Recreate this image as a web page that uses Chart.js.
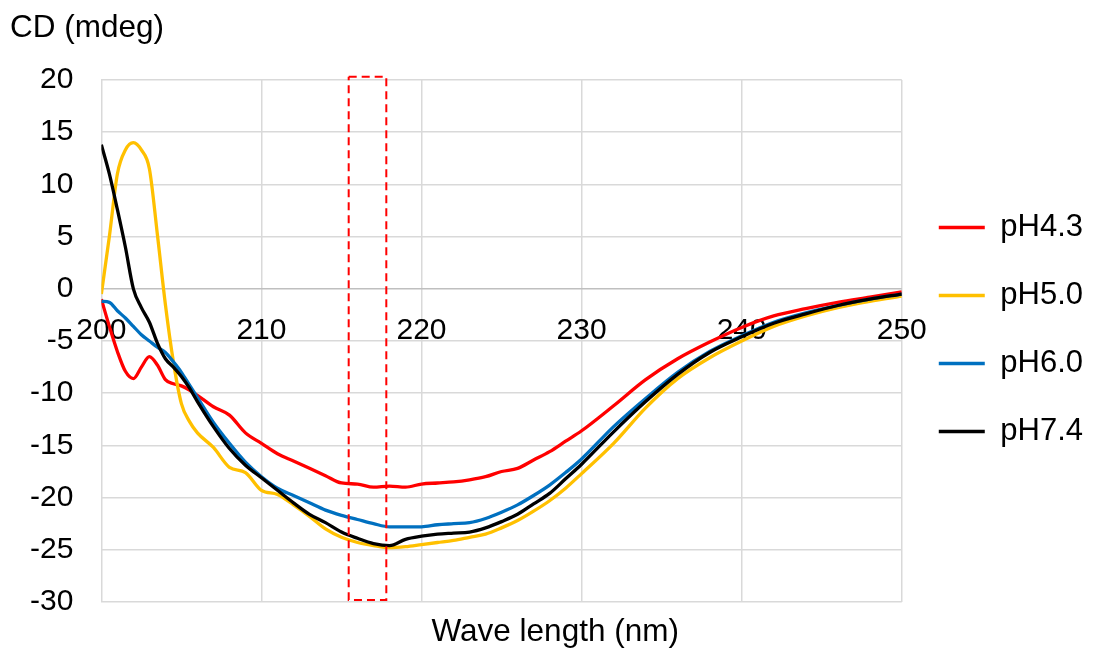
<!DOCTYPE html>
<html>
<head>
<meta charset="utf-8">
<script src="https://cdn.jsdelivr.net/npm/chart.js@4.4.1/dist/chart.umd.min.js"></script>
<style>
  html, body { margin: 0; padding: 0; background: #fff; }
  canvas { display: block; }
</style>
</head>
<body>
<canvas id="cd" width="1093" height="650"></canvas>
<script>
// wavelength (nm) and CD signal (mdeg)
const wavelengths = [200, 200.5, 201, 201.5, 202, 202.5, 203, 203.5, 204, 204.5, 205, 205.5, 206, 207, 208, 209,
  210, 211, 212, 213, 214, 215, 216, 217, 218, 219, 220, 221, 222, 223, 224, 225, 226, 227, 228, 229,
  230, 232, 234, 236, 238, 240, 242, 244, 246, 248, 250];

const ph43 = [-1.0, -3.6, -6.0, -7.9, -8.6, -7.5, -6.5, -7.3, -8.7, -9.1, -9.3, -9.7, -10.2, -11.3, -12.1, -13.8,
  -14.8, -15.8, -16.5, -17.2, -17.9, -18.6, -18.7, -19.0, -18.9, -19.0, -18.7, -18.6, -18.5, -18.3, -18.0, -17.5, -17.2, -16.4, -15.6, -14.6,
  -13.6, -11.2, -8.7, -6.7, -5.1, -3.7, -2.6, -1.9, -1.3, -0.8, -0.3];

const ph50 = [-0.5, 5.0, 11.0, 13.3, 14.0, 13.3, 11.5, 5.2, -1.5, -7.0, -11.0, -12.7, -13.8, -15.2, -17.1, -17.6,
  -19.3, -19.7, -20.7, -21.8, -23.0, -23.8, -24.3, -24.6, -24.8, -24.7, -24.5, -24.3, -24.1, -23.8, -23.5, -22.9, -22.2, -21.3, -20.3, -19.1,
  -17.7, -14.8, -11.4, -8.6, -6.6, -5.0, -3.6, -2.6, -1.8, -1.2, -0.7];

const ph60 = [-1.2, -1.3, -2.1, -2.8, -3.6, -4.4, -5.0, -5.6, -6.1, -7.0, -8.0, -9.2, -10.4, -12.8, -14.8, -16.6,
  -18.0, -19.1, -19.8, -20.5, -21.2, -21.7, -22.1, -22.5, -22.8, -22.8, -22.8, -22.6, -22.5, -22.4, -22.0, -21.4, -20.7, -19.8, -18.8, -17.6,
  -16.3, -13.2, -10.5, -8.0, -6.0, -4.5, -3.2, -2.3, -1.6, -1.0, -0.5];

const ph74 = [13.8, 11.0, 7.6, 4.0, 0.0, -1.8, -3.2, -5.2, -6.7, -7.5, -8.4, -9.5, -10.8, -13.2, -15.3, -16.9,
  -18.1, -19.3, -20.5, -21.6, -22.4, -23.3, -23.9, -24.4, -24.6, -24.0, -23.7, -23.5, -23.4, -23.3, -22.9, -22.3, -21.6, -20.6, -19.6, -18.2,
  -16.8, -13.7, -10.8, -8.2, -6.1, -4.6, -3.3, -2.4, -1.6, -1.0, -0.5];

// dashed highlight box around 216-218 nm
const boxX = [215.45, 217.8, 217.8, 215.45, 215.45];
const boxY = [20.3, 20.3, -29.8, -29.8, 20.3];

const xTickValues = [200, 210, 220, 230, 240, 250];
const yTickValues = [-30, -25, -20, -15, -10, -5, 0, 5, 10, 15, 20];

const FONT = "'Liberation Sans', Arial, sans-serif";

function pairs(xs, ys) {
  return xs.map((x, i) => ({ x: x, y: ys[i] }));
}

function series(label, values, color, order) {
  return {
    label: label,
    data: pairs(wavelengths, values),
    borderColor: color,
    backgroundColor: color,
    borderWidth: 3.3,
    pointRadius: 0,
    cubicInterpolationMode: 'monotone',
    order: order,
  };
}

const axisTitles = {
  id: 'axisTitles',
  afterDraw(chart) {
    const { ctx, chartArea } = chart;
    ctx.save();
    ctx.fillStyle = '#000';
    ctx.font = '31.5px ' + FONT;
    ctx.textBaseline = 'middle';
    ctx.textAlign = 'left';
    ctx.fillText('CD (mdeg)', 10, 28);
    ctx.textAlign = 'center';
    ctx.fillText('Wave length (nm)', chartArea.left + chartArea.width * 0.567, 632);
    ctx.restore();
  }
};

new Chart(document.getElementById('cd'), {
  type: 'line',
  data: {
    datasets: [
      series('pH4.3', ph43, '#ff0000', 4),
      series('pH5.0', ph50, '#ffc000', 3),
      series('pH6.0', ph60, '#0070c0', 2),
      series('pH7.4', ph74, '#000000', 1),
      {
        label: 'box',
        data: pairs(boxX, boxY),
        borderColor: '#ff0000',
        borderWidth: 2,
        borderDash: [8, 5],
        pointRadius: 0,
        tension: 0,
        clip: false,
        order: 0,
      },
    ],
  },
  options: {
    responsive: false,
    animation: false,
    layout: { padding: { left: 2, top: 80, right: 0, bottom: 48 } },
    plugins: {
      tooltip: { enabled: false },
      legend: {
        position: 'right',
        fullSize: false,
        align: 'start',
        title: { display: true, text: '', font: { size: 10 }, padding: { top: 83, bottom: 0 } },
        labels: {
          filter: (item) => item.text !== 'box',
          sort: (a, b) => a.datasetIndex - b.datasetIndex,
          usePointStyle: true,
          pointStyle: 'line',
          pointStyleWidth: 46,
          padding: 37,
          color: '#000',
          font: { family: FONT, size: 31 },
        },
      },
    },
    scales: {
      x: {
        type: 'linear',
        min: 200,
        max: 250,
        afterBuildTicks: (axis) => { axis.ticks = xTickValues.map(v => ({ value: v })); },
        ticks: { display: false },
        grid: { color: '#d9d9d9', lineWidth: 1.5, drawTicks: false },
        border: { display: false },
      },
      xLabels: {
        type: 'linear',
        position: { y: 0 },
        min: 200,
        max: 250,
        afterBuildTicks: (axis) => { axis.ticks = xTickValues.map(v => ({ value: v })); },
        grid: { display: false, drawTicks: false },
        border: { display: false },
        ticks: { color: '#000', padding: 24, font: { family: FONT, size: 30 } },
      },
      y: {
        min: -30,
        max: 20,
        afterBuildTicks: (axis) => { axis.ticks = yTickValues.map(v => ({ value: v })); },
        grid: {
          color: (c) => (c.tick && c.tick.value === 0 ? '#bfbfbf' : '#d9d9d9'),
          lineWidth: 1.5,
          drawTicks: false,
        },
        border: { display: false },
        ticks: { color: '#000', padding: 28, font: { family: FONT, size: 30 } },
      },
    },
  },
  plugins: [axisTitles],
});
</script>
</body>
</html>
